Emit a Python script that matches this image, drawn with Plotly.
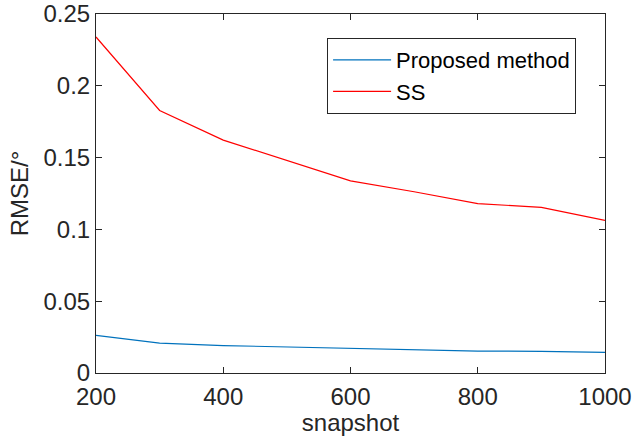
import plotly.graph_objects as go

snapshots = [200, 300, 400, 500, 600, 700, 800, 900, 1000]
proposed = [0.0262, 0.0208, 0.0191, 0.0182, 0.0168, 0.0162, 0.0153, 0.0151, 0.0143]
ss = [0.234, 0.1828, 0.1622, 0.148, 0.1338, 0.1262, 0.118, 0.1153, 0.1063]

x_ticks = [200, 400, 600, 800, 1000]
y_ticks = [0, 0.05, 0.1, 0.15, 0.2, 0.25]
y_ticklabels = ["0", "0.05", "0.1", "0.15", "0.2", "0.25"]

axis_color = "#262626"
font_family = "Liberation Sans, Arial, Helvetica, sans-serif"

fig = go.Figure()
fig.add_trace(go.Scatter(x=snapshots, y=proposed, mode="lines", name="Proposed method",
                         line=dict(color="#0072BD", width=1.2)))
fig.add_trace(go.Scatter(x=snapshots, y=ss, mode="lines", name="SS",
                         line=dict(color="#FF0000", width=1.2)))

axis_common = dict(
    showgrid=False, zeroline=False, showline=True, linecolor=axis_color, linewidth=1,
    mirror="ticks", ticks="inside", ticklen=6, tickcolor=axis_color, tickwidth=1,
    tickfont=dict(size=24, color=axis_color, family=font_family),
    automargin=False,
)

fig.update_xaxes(range=[200, 1000], tickvals=x_ticks, ticklabelstandoff=2,
                 title=dict(text="snapshot", font=dict(size=24, color=axis_color, family=font_family), standoff=0),
                 **axis_common)
fig.update_yaxes(range=[0, 0.25], tickvals=y_ticks, ticktext=y_ticklabels,
                 title=dict(text="RMSE/°", font=dict(size=24, color=axis_color, family=font_family), standoff=8),
                 **axis_common)

fig.update_layout(
    width=634, height=436,
    margin=dict(l=96, r=29, t=14, b=63),
    paper_bgcolor="white", plot_bgcolor="white",
    font=dict(family=font_family, color=axis_color),
    showlegend=True,
    legend=dict(x=0.454, y=0.933, xanchor="left", yanchor="top",
                bgcolor="white", bordercolor=axis_color, borderwidth=1,
                font=dict(size=22, color="#000000", family=font_family),
                tracegroupgap=0, itemwidth=58),
)

fig.write_html("out.html", config={"displayModeBar": False},
               post_script="document.body.style.margin='0px';")
